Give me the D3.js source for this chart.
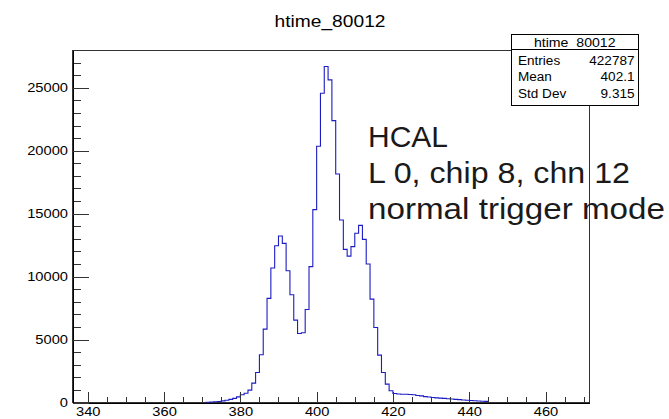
<!DOCTYPE html>
<html>
<head>
<meta charset="utf-8">
<script src="https://cdn.jsdelivr.net/npm/d3@7"></script>
<style>
  body { margin: 0; background: #fff; }
  text { font-family: "Liberation Sans", Arial, sans-serif; }
</style>
</head>
<body>
<svg id="vis"></svg>
<script>
// Datos del histograma (bines de ancho 1, desde 371)
const BIN_START = 371;
const COUNTS = [
    20, 40, 60, 80, 130, 180, 250, 330, 450,
    610, 740, 980, 1540, 2385, 3790, 5830, 8270, 10680, 12455,
    13220, 12640, 10470, 8560, 6545, 5485, 5540, 7390, 10790, 15320,
    20350, 24570, 26690, 25630, 22390, 18150, 14500, 12160, 11630, 12380,
    13440, 14070, 12960, 11000, 8215, 5960, 3760, 2385, 1460, 930,
    715, 680, 660, 650, 640, 620, 560, 530, 470, 440,
    400, 370, 350, 330, 300, 280, 250, 230, 200, 180,
    160, 140, 120, 100, 90
];
const X_TICKS = [340, 360, 380, 400, 420, 440, 460];
const X_MINOR = d3.range(340, 471, 5);
const Y_TICKS = [0, 5000, 10000, 15000, 20000, 25000];
const Y_MINOR = d3.range(0, 28000, 1000);

const TITLE = "htime_80012";
const STATS_NAMES = ["Entries", "Mean", "Std Dev"];
const STATS_VALUES = ["422787", "402.1", "9.315"];
const NOTE_LINES = ["HCAL", "L 0, chip 8, chn 12", "normal trigger mode"];
const NOTE_WIDTHS = [80, 262, 297];

const WIDTH = 669;
const HEIGHT = 419;
const FRAME = { left: 72.5, right: 589, top: 50, bottom: 402.5 };
const SX = 1.13; // el original viene estirado en horizontal

const svg = d3.select("#vis")
    .attr("width", WIDTH)
    .attr("height", HEIGHT);

const x = d3.scaleLinear().domain([336, 471.4]).range([FRAME.left, FRAME.right]);
const y = d3.scaleLinear().domain([0, 28000]).range([FRAME.bottom, FRAME.top]);

// Marco
svg.append("rect")
    .attr("x", FRAME.left)
    .attr("y", FRAME.top)
    .attr("width", FRAME.right - FRAME.left)
    .attr("height", FRAME.bottom - FRAME.top)
    .attr("fill", "none")
    .attr("stroke", "#333")
    .attr("shape-rendering", "crispEdges");

// Histograma
const pts = [[BIN_START, 0]];
COUNTS.forEach((c, i) => {
    pts.push([BIN_START + i, c]);
    pts.push([BIN_START + i + 1, c]);
});
pts.push([BIN_START + COUNTS.length, 0]);

svg.append("path")
    .datum(pts)
    .attr("fill", "none")
    .attr("stroke", "#1c1cc4")
    .attr("stroke-width", 1.1)
    .attr("d", d3.line().x(d => x(d[0])).y(d => y(d[1])));

// EJE X
const ejeXMinor = svg.append("g")
    .attr("transform", `translate(0, ${FRAME.bottom})`)
    .call(d3.axisBottom(x).tickValues(X_MINOR).tickSize(-6).tickSizeOuter(0).tickFormat(""));
const ejeX = svg.append("g")
    .attr("transform", `translate(0, ${FRAME.bottom})`)
    .call(d3.axisBottom(x).tickValues(X_TICKS).tickSize(-11).tickSizeOuter(0).tickPadding(4));

// EJE Y
const ejeYMinor = svg.append("g")
    .attr("transform", `translate(${FRAME.left}, 0)`)
    .call(d3.axisLeft(y).tickValues(Y_MINOR).tickSize(-8).tickSizeOuter(0).tickFormat(""));
const ejeY = svg.append("g")
    .attr("transform", `translate(${FRAME.left}, 0)`)
    .call(d3.axisLeft(y).tickValues(Y_TICKS).tickSize(-16).tickSizeOuter(0).tickPadding(4)
        .tickFormat(d3.format("d")));

[ejeXMinor, ejeX, ejeYMinor, ejeY].forEach(g => {
    g.selectAll("line").attr("stroke", "#333").attr("shape-rendering", "crispEdges");
    g.select(".domain").attr("stroke", "#000").attr("shape-rendering", "crispEdges");
    g.selectAll("text")
        .attr("font-size", 13)
        .attr("fill", "#000")
        .attr("font-family", "Liberation Sans, Arial, sans-serif")
        .attr("transform", `scale(${SX},1)`);
});
ejeX.selectAll("text").attr("dy", "0.72em");

// Titulo
svg.append("text")
    .attr("transform", `translate(330, 27) scale(${SX},1)`)
    .attr("text-anchor", "middle")
    .attr("font-size", 17)
    .text(TITLE);

// Caja de estadisticas
const box = { x: 511, y: 34.5, w: 127.5, h: 70.5, head: 15 };
svg.append("rect")
    .attr("x", box.x).attr("y", box.y)
    .attr("width", box.w).attr("height", box.h)
    .attr("fill", "#fff")
    .attr("stroke", "#000")
    .attr("shape-rendering", "crispEdges");
svg.append("line")
    .attr("x1", box.x).attr("x2", box.x + box.w)
    .attr("y1", box.y + box.head).attr("y2", box.y + box.head)
    .attr("stroke", "#000")
    .attr("shape-rendering", "crispEdges");
svg.append("text")
    .attr("transform", `translate(${box.x + box.w / 2}, ${box.y + 12}) scale(${SX},1)`)
    .attr("text-anchor", "middle")
    .attr("font-size", 12.5)
    .text(TITLE);

const rowY = d3.scalePoint().domain(STATS_NAMES).range([65, 97.5]);
STATS_NAMES.forEach((name, i) => {
    svg.append("text")
        .attr("transform", `translate(${box.x + 7}, ${rowY(name)}) scale(${SX},1)`)
        .attr("font-size", 12)
        .text(name);
    svg.append("text")
        .attr("transform", `translate(${box.x + box.w - 4}, ${rowY(name)}) scale(${SX},1)`)
        .attr("text-anchor", "end")
        .attr("font-size", 12)
        .text(STATS_VALUES[i]);
});

// Texto anadido
const noteY = d3.scalePoint().domain(NOTE_LINES).range([147, 219]);
NOTE_LINES.forEach((t, i) => {
    svg.append("text")
        .attr("x", 368)
        .attr("y", noteY(t))
        .attr("font-family", "Noto Sans CJK JP, sans-serif")
        .attr("font-weight", 300)
        .attr("font-size", 30)
        .attr("fill", "#1a1a1a")
        .attr("textLength", NOTE_WIDTHS[i])
        .attr("lengthAdjust", "spacingAndGlyphs")
        .text(t);
});
</script>
</body>
</html>
